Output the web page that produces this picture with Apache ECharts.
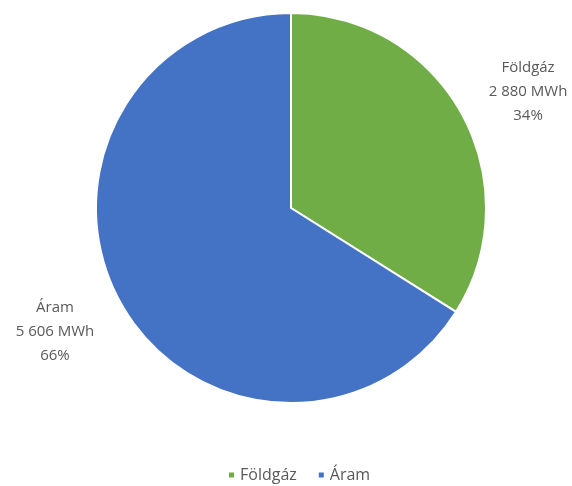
<!DOCTYPE html>
<html><head><meta charset="utf-8">
<script src="https://cdn.jsdelivr.net/npm/echarts@6/dist/echarts.min.js"></script>
<style>html,body{margin:0;padding:0;background:#fff}#c{width:572px;height:486px}</style>
</head><body><div id="c"></div>
<script>
const categories = ['Földgáz', 'Áram'];
const values = [2880, 5606];
const colors = ['#70AD47', '#4472C4'];
const total = values.reduce((a,b)=>a+b,0);
function fmt(n){return String(n).replace(/\B(?=(\d{3})+(?!\d))/g,' ');}
const labelShift = [[15,-18],[-14,26]];
const chart = echarts.init(document.getElementById('c'));
chart.setOption({
  animation:false,
  textStyle:{fontFamily:'Open Sans'},
  legend:{
    top:462, left:222, itemWidth:7, itemHeight:7, icon:'rect', itemGap:20,
    textStyle:{color:'#595959', fontSize:16, fontFamily:'Open Sans'},
    data:categories
  },
  series:[{
    type:'pie',
    center:[291,208],
    radius:[0,195],
    startAngle:90,
    clockwise:true,
    itemStyle:{borderColor:'#fff', borderWidth:2},
    label:{
      show:true, position:'outside',
      color:'#595959', fontSize:15, lineHeight:24,
      fontFamily:'Open Sans',
      formatter:p=>p.name+'\n'+fmt(p.value)+' MWh\n'+Math.round(p.value/total*100)+'%'
    },
    labelLayout:function(p){
      const r=p.labelRect, s=labelShift[p.dataIndex];
      return {x:r.x+r.width/2+s[0], y:r.y+r.height/2+s[1], align:'center', verticalAlign:'middle'};
    },
    labelLine:{show:false, length:8, length2:0},
    data:categories.map((c,i)=>({name:c, value:values[i], itemStyle:{color:colors[i]}}))
  }]
});
</script></body></html>
